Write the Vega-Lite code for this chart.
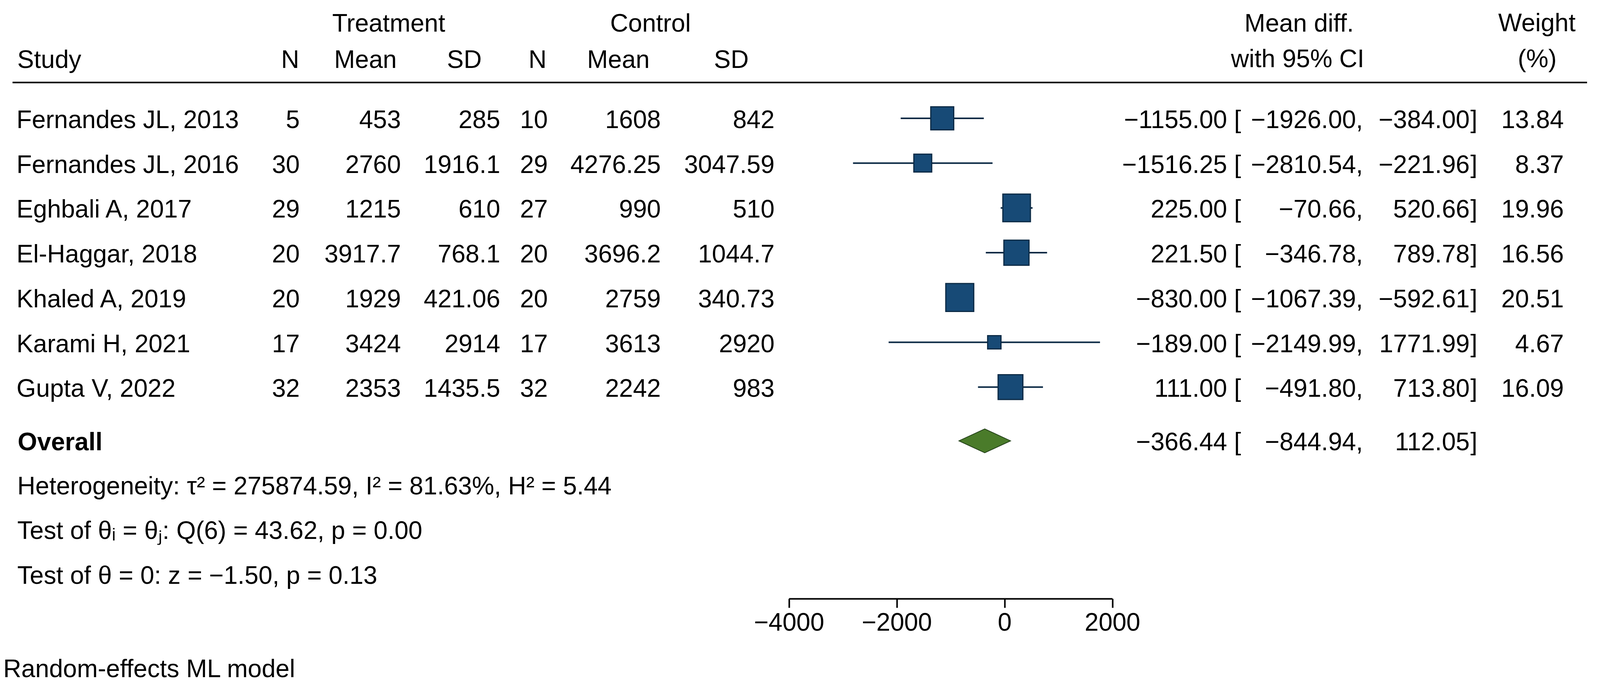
{
  "$schema": "https://vega.github.io/schema/vega-lite/v6.json",
  "background": "white",
  "width": 4096,
  "height": 1772,
  "padding": 0,
  "autosize": {"type": "none"},
  "config": {
    "view": {"stroke": null},
    "font": "Liberation Sans",
    "text": {"font": "Liberation Sans", "fontSize": 64, "color": "#000000", "baseline": "alphabetic"}
  },
  "datasets": {
    "studies": [
      {"row": 1, "study": "Fernandes JL, 2013", "nt": 5, "mt": 453, "sdt": 285, "nc": 10, "mc": 1608, "sdc": 842, "md": -1155.00, "lo": -1926.00, "hi": -384.00, "w": 13.84},
      {"row": 2, "study": "Fernandes JL, 2016", "nt": 30, "mt": 2760, "sdt": 1916.1, "nc": 29, "mc": 4276.25, "sdc": 3047.59, "md": -1516.25, "lo": -2810.54, "hi": -221.96, "w": 8.37},
      {"row": 3, "study": "Eghbali A, 2017", "nt": 29, "mt": 1215, "sdt": 610, "nc": 27, "mc": 990, "sdc": 510, "md": 225.00, "lo": -70.66, "hi": 520.66, "w": 19.96},
      {"row": 4, "study": "El-Haggar, 2018", "nt": 20, "mt": 3917.7, "sdt": 768.1, "nc": 20, "mc": 3696.2, "sdc": 1044.7, "md": 221.50, "lo": -346.78, "hi": 789.78, "w": 16.56},
      {"row": 5, "study": "Khaled A, 2019", "nt": 20, "mt": 1929, "sdt": 421.06, "nc": 20, "mc": 2759, "sdc": 340.73, "md": -830.00, "lo": -1067.39, "hi": -592.61, "w": 20.51},
      {"row": 6, "study": "Karami H, 2021", "nt": 17, "mt": 3424, "sdt": 2914, "nc": 17, "mc": 3613, "sdc": 2920, "md": -189.00, "lo": -2149.99, "hi": 1771.99, "w": 4.67},
      {"row": 7, "study": "Gupta V, 2022", "nt": 32, "mt": 2353, "sdt": 1435.5, "nc": 32, "mc": 2242, "sdc": 983, "md": 111.00, "lo": -491.80, "hi": 713.80, "w": 16.09}
    ],
    "overall": [
      {"row": 8, "label": "Overall", "md": -366.44, "lo": -844.94, "hi": 112.05}
    ],
    "notes": [
      {"row": 9, "label": "Heterogeneity: τ² = 275874.59, I² = 81.63%, H² = 5.44"},
      {"row": 10, "label": "Test of θᵢ = θⱼ: Q(6) = 43.62, p = 0.00"},
      {"row": 11, "label": "Test of θ = 0: z = −1.50, p = 0.13"}
    ],
    "foot": [
      {"row": 13, "label": "Random-effects ML model"}
    ],
    "one": [{}]
  },
  "layer": [
    {"data": {"name": "one"}, "mark": {"type": "rule", "strokeWidth": 4, "color": "#000000", "yOffset": 23},
     "encoding": {
       "x": {"datum": -18404, "type": "quantitative", "title": null, "scale": {"domain": [-4000, 2000], "range": [2019.6, 2847.5], "nice": false, "zero": false}},
       "x2": {"datum": 10808},
       "y": {"datum": 0, "type": "quantitative", "scale": {"domain": [-1.6417, 13.807], "reverse": true, "nice": false, "zero": false}, "axis": null}}},

    {"data": {"name": "studies"}, "mark": {"type": "rule", "strokeWidth": 4, "color": "#0c2a45"},
     "encoding": {
       "x": {"field": "lo", "type": "quantitative", "title": null, "scale": {"domain": [-4000, 2000], "range": [2019.6, 2847.5], "nice": false, "zero": false},
             "axis": {"values": [-4000, -2000, 0, 2000], "offset": -239, "format": "d", "title": null, "grid": false, "domain": true, "domainWidth": 4, "domainColor": "#000000", "tickWidth": 4, "tickColor": "#000000", "tickSize": 23, "labelFontSize": 64, "labelFont": "Liberation Sans", "labelColor": "#000000", "labelPadding": 7, "labelFlush": false, "labelOverlap": false, "labelLimit": 1000}},
       "x2": {"field": "hi"},
       "y": {"field": "row", "type": "quantitative", "scale": {"domain": [-1.6417, 13.807], "reverse": true, "nice": false, "zero": false}, "axis": null}}},
    {"data": {"name": "studies"}, "mark": {"type": "point", "shape": "square", "filled": true, "fill": "#174a76", "stroke": "#0b2a45", "strokeWidth": 3, "opacity": 1},
     "encoding": {
       "x": {"field": "md", "type": "quantitative", "title": null},
       "y": {"field": "row", "type": "quantitative"},
       "size": {"field": "w", "type": "quantitative", "scale": {"domain": [0, 25], "range": [0, 6250], "zero": true}, "legend": null}}},
    {"data": {"name": "overall"}, "mark": {"type": "point", "shape": "M -1 0 L 0 -0.462 L 1 0 L 0 0.462 Z", "size": 17431, "filled": true, "fill": "#4a7b2a", "stroke": "#24421a", "strokeWidth": 2, "opacity": 1, "yOffset": 23},
     "encoding": {
       "x": {"field": "md", "type": "quantitative", "title": null},
       "y": {"field": "row", "type": "quantitative"}}},

    {"data": {"name": "one"}, "mark": {"type": "text", "align": "left", "dy": -14},
     "encoding": {"x": {"datum": -18315, "type": "quantitative", "title": null}, "y": {"datum": 0, "type": "quantitative"}, "text": {"value": "Study"}}},
    {"data": {"name": "one"}, "mark": {"type": "text", "align": "center", "dy": -14},
     "encoding": {"x": {"datum": -13253, "type": "quantitative", "title": null}, "y": {"datum": 0, "type": "quantitative"}, "text": {"value": "N"}}},
    {"data": {"name": "one"}, "mark": {"type": "text", "align": "center", "dy": -14},
     "encoding": {"x": {"datum": -11856, "type": "quantitative", "title": null}, "y": {"datum": 0, "type": "quantitative"}, "text": {"value": "Mean"}}},
    {"data": {"name": "one"}, "mark": {"type": "text", "align": "center", "dy": -14},
     "encoding": {"x": {"datum": -10021, "type": "quantitative", "title": null}, "y": {"datum": 0, "type": "quantitative"}, "text": {"value": "SD"}}},
    {"data": {"name": "one"}, "mark": {"type": "text", "align": "center", "dy": -14},
     "encoding": {"x": {"datum": -8664, "type": "quantitative", "title": null}, "y": {"datum": 0, "type": "quantitative"}, "text": {"value": "N"}}},
    {"data": {"name": "one"}, "mark": {"type": "text", "align": "center", "dy": -14},
     "encoding": {"x": {"datum": -7164, "type": "quantitative", "title": null}, "y": {"datum": 0, "type": "quantitative"}, "text": {"value": "Mean"}}},
    {"data": {"name": "one"}, "mark": {"type": "text", "align": "center", "dy": -14},
     "encoding": {"x": {"datum": -5068, "type": "quantitative", "title": null}, "y": {"datum": 0, "type": "quantitative"}, "text": {"value": "SD"}}},
    {"data": {"name": "one"}, "mark": {"type": "text", "align": "center", "dy": 7},
     "encoding": {"x": {"datum": -11425, "type": "quantitative", "title": null}, "y": {"datum": -1, "type": "quantitative"}, "text": {"value": "Treatment"}}},
    {"data": {"name": "one"}, "mark": {"type": "text", "align": "center", "dy": 7},
     "encoding": {"x": {"datum": -6568, "type": "quantitative", "title": null}, "y": {"datum": -1, "type": "quantitative"}, "text": {"value": "Control"}}},
    {"data": {"name": "one"}, "mark": {"type": "text", "align": "center", "dy": 7},
     "encoding": {"x": {"datum": 5466, "type": "quantitative", "title": null}, "y": {"datum": -1, "type": "quantitative"}, "text": {"value": "Mean diff."}}},
    {"data": {"name": "one"}, "mark": {"type": "text", "align": "center", "dy": -16},
     "encoding": {"x": {"datum": 5438, "type": "quantitative", "title": null}, "y": {"datum": 0, "type": "quantitative"}, "text": {"value": "with 95% CI"}}},
    {"data": {"name": "one"}, "mark": {"type": "text", "align": "center", "dy": 6},
     "encoding": {"x": {"datum": 9877, "type": "quantitative", "title": null}, "y": {"datum": -1, "type": "quantitative"}, "text": {"value": "Weight"}}},
    {"data": {"name": "one"}, "mark": {"type": "text", "align": "center", "dy": -16},
     "encoding": {"x": {"datum": 9884, "type": "quantitative", "title": null}, "y": {"datum": 0, "type": "quantitative"}, "text": {"value": "(%)"}}},

    {"data": {"name": "studies"}, "mark": {"type": "text", "align": "left", "dx": -2, "dy": 25},
     "encoding": {"x": {"datum": -18315, "type": "quantitative", "title": null}, "y": {"field": "row", "type": "quantitative"}, "text": {"field": "study", "type": "nominal"}}},
    {"data": {"name": "studies"}, "mark": {"type": "text", "align": "right", "dy": 25},
     "encoding": {"x": {"datum": -13075, "type": "quantitative", "title": null}, "y": {"field": "row", "type": "quantitative"}, "text": {"field": "nt", "type": "quantitative", "format": "~f"}}},
    {"data": {"name": "studies"}, "mark": {"type": "text", "align": "right", "dy": 25},
     "encoding": {"x": {"datum": -11199, "type": "quantitative", "title": null}, "y": {"field": "row", "type": "quantitative"}, "text": {"field": "mt", "type": "quantitative", "format": "~f"}}},
    {"data": {"name": "studies"}, "mark": {"type": "text", "align": "right", "dy": 25},
     "encoding": {"x": {"datum": -9356, "type": "quantitative", "title": null}, "y": {"field": "row", "type": "quantitative"}, "text": {"field": "sdt", "type": "quantitative", "format": "~f"}}},
    {"data": {"name": "studies"}, "mark": {"type": "text", "align": "right", "dy": 25},
     "encoding": {"x": {"datum": -8473, "type": "quantitative", "title": null}, "y": {"field": "row", "type": "quantitative"}, "text": {"field": "nc", "type": "quantitative", "format": "~f"}}},
    {"data": {"name": "studies"}, "mark": {"type": "text", "align": "right", "dy": 25},
     "encoding": {"x": {"datum": -6377, "type": "quantitative", "title": null}, "y": {"field": "row", "type": "quantitative"}, "text": {"field": "mc", "type": "quantitative", "format": "~f"}}},
    {"data": {"name": "studies"}, "mark": {"type": "text", "align": "right", "dy": 25},
     "encoding": {"x": {"datum": -4267, "type": "quantitative", "title": null}, "y": {"field": "row", "type": "quantitative"}, "text": {"field": "sdc", "type": "quantitative", "format": "~f"}}},
    {"data": {"name": "studies"}, "mark": {"type": "text", "align": "right", "dy": 25},
     "encoding": {"x": {"datum": 4130, "type": "quantitative", "title": null}, "y": {"field": "row", "type": "quantitative"}, "text": {"field": "md", "type": "quantitative", "format": ".2f"}}},
    {"data": {"name": "studies"}, "mark": {"type": "text", "align": "left", "dy": 25},
     "encoding": {"x": {"datum": 4260, "type": "quantitative", "title": null}, "y": {"field": "row", "type": "quantitative"}, "text": {"value": "["}}},
    {"data": {"name": "studies"}, "mark": {"type": "text", "align": "right", "dy": 25},
     "encoding": {"x": {"datum": 6521, "type": "quantitative", "title": null}, "y": {"field": "row", "type": "quantitative"}, "text": {"field": "lo", "type": "quantitative", "format": ".2f"}}},
    {"data": {"name": "studies"}, "mark": {"type": "text", "align": "left", "dy": 25},
     "encoding": {"x": {"datum": 6521, "type": "quantitative", "title": null}, "y": {"field": "row", "type": "quantitative"}, "text": {"value": ","}}},
    {"data": {"name": "studies"}, "mark": {"type": "text", "align": "right", "dy": 25},
     "encoding": {"x": {"datum": 8630, "type": "quantitative", "title": null}, "y": {"field": "row", "type": "quantitative"}, "text": {"field": "hi", "type": "quantitative", "format": ".2f"}}},
    {"data": {"name": "studies"}, "mark": {"type": "text", "align": "left", "dy": 25},
     "encoding": {"x": {"datum": 8644, "type": "quantitative", "title": null}, "y": {"field": "row", "type": "quantitative"}, "text": {"value": "]"}}},
    {"data": {"name": "studies"}, "mark": {"type": "text", "align": "right", "dy": 25},
     "encoding": {"x": {"datum": 10377, "type": "quantitative", "title": null}, "y": {"field": "row", "type": "quantitative"}, "text": {"field": "w", "type": "quantitative", "format": ".2f"}}},

    {"data": {"name": "overall"}, "mark": {"type": "text", "align": "left", "dx": 1, "dy": 47, "fontWeight": "bold"},
     "encoding": {"x": {"datum": -18315, "type": "quantitative", "title": null}, "y": {"field": "row", "type": "quantitative"}, "text": {"field": "label", "type": "nominal"}}},
    {"data": {"name": "overall"}, "mark": {"type": "text", "align": "right", "dy": 47},
     "encoding": {"x": {"datum": 4130, "type": "quantitative", "title": null}, "y": {"field": "row", "type": "quantitative"}, "text": {"field": "md", "type": "quantitative", "format": ".2f"}}},
    {"data": {"name": "overall"}, "mark": {"type": "text", "align": "left", "dy": 47},
     "encoding": {"x": {"datum": 4260, "type": "quantitative", "title": null}, "y": {"field": "row", "type": "quantitative"}, "text": {"value": "["}}},
    {"data": {"name": "overall"}, "mark": {"type": "text", "align": "right", "dy": 47},
     "encoding": {"x": {"datum": 6521, "type": "quantitative", "title": null}, "y": {"field": "row", "type": "quantitative"}, "text": {"field": "lo", "type": "quantitative", "format": ".2f"}}},
    {"data": {"name": "overall"}, "mark": {"type": "text", "align": "left", "dy": 47},
     "encoding": {"x": {"datum": 6521, "type": "quantitative", "title": null}, "y": {"field": "row", "type": "quantitative"}, "text": {"value": ","}}},
    {"data": {"name": "overall"}, "mark": {"type": "text", "align": "right", "dy": 47},
     "encoding": {"x": {"datum": 8630, "type": "quantitative", "title": null}, "y": {"field": "row", "type": "quantitative"}, "text": {"field": "hi", "type": "quantitative", "format": ".2f"}}},
    {"data": {"name": "overall"}, "mark": {"type": "text", "align": "left", "dy": 47},
     "encoding": {"x": {"datum": 8644, "type": "quantitative", "title": null}, "y": {"field": "row", "type": "quantitative"}, "text": {"value": "]"}}},

    {"data": {"name": "notes"}, "mark": {"type": "text", "align": "left", "dy": 45},
     "encoding": {"x": {"datum": -18315, "type": "quantitative", "title": null}, "y": {"field": "row", "type": "quantitative"}, "text": {"field": "label", "type": "nominal"}}},
    {"data": {"name": "foot"}, "mark": {"type": "text", "align": "left", "dx": -36, "dy": 55},
     "encoding": {"x": {"datum": -18315, "type": "quantitative", "title": null}, "y": {"field": "row", "type": "quantitative"}, "text": {"field": "label", "type": "nominal"}}}
  ]
}
